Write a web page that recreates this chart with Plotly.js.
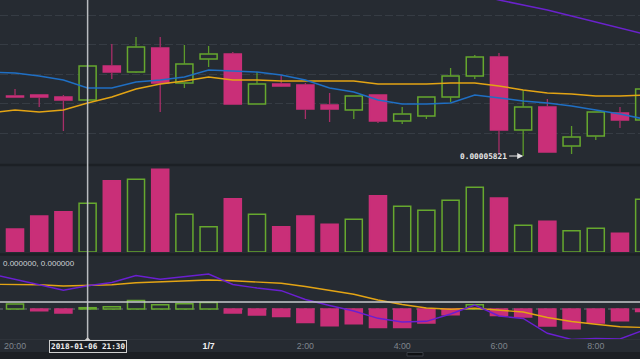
<!DOCTYPE html>
<html>
<head>
<meta charset="utf-8">
<script src="https://cdn.plot.ly/plotly-3.0.1.min.js"></script>
<style>html,body{margin:0;padding:0;background:#262b32;}#chart{width:640px;height:359px;}</style>
</head>
<body>
<div id="chart"></div>
<script>
// ---- data ----
const times = ['2018-01-06 20:00','2018-01-06 20:30','2018-01-06 21:00','2018-01-06 21:30','2018-01-06 22:00','2018-01-06 22:30','2018-01-06 23:00','2018-01-06 23:30',
  '2018-01-07 00:00','2018-01-07 00:30','2018-01-07 01:00','2018-01-07 01:30','2018-01-07 02:00','2018-01-07 02:30','2018-01-07 03:00','2018-01-07 03:30',
  '2018-01-07 04:00','2018-01-07 04:30','2018-01-07 05:00','2018-01-07 05:30','2018-01-07 06:00','2018-01-07 06:30','2018-01-07 07:00','2018-01-07 07:30',
  '2018-01-07 08:00','2018-01-07 08:30','2018-01-07 09:00'];
const open  = [0.00005881,0.00005882,0.00005880,0.00005877,0.00005911,0.00005905,0.00005929,0.00005894,0.00005918,0.00005923,0.00005873,0.00005893,0.00005892,0.00005872,
  0.00005867,0.00005882,0.00005856,0.00005861,0.00005880,0.00005901,0.00005920,0.00005847,0.00005870,0.00005831,0.00005841,0.00005864,0.00005857];
const close = [0.00005880,0.00005880,0.00005877,0.00005911,0.00005905,0.00005930,0.00005894,0.00005913,0.00005923,0.00005873,0.00005893,0.00005891,0.00005868,0.00005868,
  0.00005881,0.00005856,0.00005863,0.00005880,0.00005901,0.00005920,0.00005847,0.00005870,0.00005825,0.00005840,0.00005865,0.00005857,0.00005888];
const high  = [0.00005888,0.00005882,0.00005882,0.00005911,0.00005933,0.00005940,0.00005940,0.00005932,0.00005931,0.00005925,0.00005905,0.00005902,0.00005894,0.00005884,
  0.00005881,0.00005882,0.00005870,0.00005880,0.00005909,0.00005922,0.00005924,0.00005887,0.00005878,0.00005851,0.00005865,0.00005870,0.00005888];
const low   = [0.00005880,0.00005870,0.00005846,0.00005877,0.00005898,0.00005904,0.00005865,0.00005889,0.00005910,0.00005873,0.00005873,0.00005890,0.00005858,0.00005855,
  0.00005858,0.00005854,0.00005853,0.00005858,0.00005875,0.00005898,0.00005822,0.00005821,0.00005825,0.00005823,0.00005837,0.00005849,0.00005857];
const volume = [230,360,403,487,713,727,827,377,253,533,377,253,360,277,327,563,457,417,517,647,540,267,307,213,237,187,527];

const lineTimes = ['2018-01-06 19:30'].concat(times);
const maShort = [0.00005905,0.00005904,0.00005901,0.00005897,0.00005889,0.00005889,0.00005895,0.00005897,0.00005900,0.00005907,0.00005906,0.00005905,0.00005902,0.00005897,
  0.00005889,0.00005885,0.00005877,0.00005873,0.00005873,0.00005874,0.00005882,0.00005879,0.00005876,0.00005874,0.00005871,0.00005867,0.00005863,0.00005858];
const maMid = [0.00005864,0.00005867,0.00005865,0.00005867,0.00005874,0.00005880,0.00005888,0.00005893,0.00005896,0.00005900,0.00005897,0.00005897,0.00005896,0.00005896,
  0.00005896,0.00005896,0.00005893,0.00005893,0.00005893,0.00005894,0.00005894,0.00005891,0.00005887,0.00005884,0.00005883,0.00005881,0.00005881,0.00005882];
const maLong = [null,null,null,null,null,null,null,null,null,null,null,null,null,null,null,null,null,null,null,null,
  0.00005983,0.00005977,0.00005972,0.00005967,0.00005961,0.00005955,0.00005949,0.00005943];

const macdHist = [5.0e-9,-1.7e-9,-4.0e-9,1.3e-9,2.3e-9,8.6e-9,4.3e-9,5.3e-9,6.6e-9,-4.0e-9,-6.0e-9,-7.4e-9,-13.4e-9,-16.7e-9,
  -14.7e-9,-18.4e-9,-18.4e-9,-14.0e-9,-5.7e-9,4.3e-9,-6.4e-9,-8.0e-9,-17.0e-9,-19.7e-9,-14.0e-9,-11.7e-9,-2.4e-9];
const macdDif = [35e-9,30e-9,24.3e-9,18.7e-9,23.3e-9,26.5e-9,33.5e-9,29.7e-9,32.3e-9,35e-9,24.5e-9,21e-9,18.3e-9,9.5e-9,
  3.5e-9,-2e-9,-9.3e-9,-13e-9,-12.3e-9,-5e-9,4e-9,-7e-9,-9.5e-9,-24.3e-9,-30.5e-9,-29.5e-9,-30e-9,-21e-9];
const macdDea = [24.7e-9,24.5e-9,24.2e-9,23e-9,23.3e-9,24.3e-9,26.3e-9,27e-9,28e-9,29e-9,28.3e-9,27e-9,25.7e-9,22.5e-9,
  18.5e-9,14.7e-9,9e-9,4.5e-9,1e-9,-0.2e-9,0.7e-9,-1e-9,-3e-9,-8.5e-9,-12.5e-9,-15.3e-9,-17.7e-9,-18.5e-9];

const priceGrid = [0.00005844,0.000058735,0.00005903,0.000059325,0.00005962];
const xTickVals = ['2018-01-06 20:00','2018-01-07 00:00','2018-01-07 02:00','2018-01-07 04:00','2018-01-07 06:00','2018-01-07 08:00'];
const xTickText = ['20:00','<b><span style="color:#f2f2f2">1/7</span></b>','2:00','4:00','6:00','8:00'];
const cursorTime = '2018-01-06 21:30';
const cursorLabel = '2018-01-06 21:30';
const macdLabel = '0.000000, 0.000000';
const cursorMacd = 7e-9;

// ---- style ----
const BG = '#262b32', UP = '#66a82e', DOWN = '#c92f78', UPW = '#5c9a2a', DOWNW = '#a82e68';
const BARW = 1.27e6;
const H = 359;
const py = p => 1 - p / H;

const isUp = open.map((o, i) => close[i] >= o);
const bodyBase = open.map((o, i) => Math.min(o, close[i]));
const bodyH = open.map((o, i) => Math.max(Math.abs(close[i] - o), 0.6e-8));
const fillCol = isUp.map(u => u ? BG : DOWN);
const lineCol = isUp.map(u => u ? UP : DOWN);

function wicks(up) {
  const xs = [], ys = [];
  times.forEach((t, i) => {
    if (isUp[i] !== up) return;
    const top = Math.max(open[i], close[i]), bot = Math.min(open[i], close[i]);
    if (high[i] > top) { xs.push(t, t, null); ys.push(high[i], top, null); }
    if (low[i] < bot) { xs.push(t, t, null); ys.push(bot, low[i], null); }
  });
  return {x: xs, y: ys};
}
const wu = wicks(true), wd = wicks(false);

const traces = [
  {type:'scatter', mode:'lines', x: wu.x, y: wu.y, line:{color:UPW, width:1.3}, hoverinfo:'skip', connectgaps:false},
  {type:'scatter', mode:'lines', x: wd.x, y: wd.y, line:{color:DOWNW, width:1.3}, hoverinfo:'skip', connectgaps:false},
  {type:'bar', x: times, y: bodyH, base: bodyBase, width: BARW, marker:{color: fillCol, line:{color: lineCol, width:1.5}}},
  {type:'scatter', mode:'lines', x: lineTimes, y: maMid, line:{color:'#e3a414', width:1.5}},
  {type:'scatter', mode:'lines', x: lineTimes, y: maShort, line:{color:'#1f6fc4', width:1.5}},
  {type:'scatter', mode:'lines', x: lineTimes, y: maLong, line:{color:'#6a22cc', width:1.5}},
  {type:'bar', x: times, y: volume, yaxis:'y2', width: BARW, marker:{color: fillCol, line:{color: lineCol, width:1.5}}},
  {type:'bar', x: times, y: macdHist, yaxis:'y3', width: BARW,
    marker:{color: macdHist.map(v => v >= 0 ? BG : DOWN), line:{color: macdHist.map(v => v >= 0 ? UP : DOWN), width:1.5}}},
  {type:'scatter', mode:'lines', x: lineTimes, y: macdDea, yaxis:'y3', line:{color:'#e3a414', width:1.4}},
  {type:'scatter', mode:'lines', x: lineTimes, y: macdDif, yaxis:'y3', line:{color:'#6a1fd1', width:1.4}}
];

const layout = {
  width: 640, height: 359,
  margin: {l:0, r:0, t:0, b:0, pad:0},
  paper_bgcolor: BG, plot_bgcolor: BG,
  showlegend: false,
  bargap: 0,
  xaxis: {
    type:'date', anchor:'y3',
    range:['2018-01-06 19:41:23','2018-01-07 08:54:50'],
    tickvals: xTickVals, ticktext: xTickText,
    tickfont:{family:'Liberation Sans, Arial, sans-serif', size:8.8, color:'#7f858d'},
    showgrid:false, zeroline:false, showline:false, ticks:''
  },
  yaxis: {
    domain:[py(165), 1], range:[0.00005812, 0.00005977],
    showticklabels:false, zeroline:false,
    tickvals: priceGrid, gridcolor:'#363c44', gridwidth:1, griddash:'8px,3px'
  },
  yaxis2: {
    domain:[py(252), py(167)], range:[0, 850],
    showticklabels:false, showgrid:false, zeroline:false
  },
  yaxis3: {
    domain:[py(339), py(256)], range:[-30e-9, 53e-9],
    showticklabels:false, showgrid:false, zeroline:false
  },
  shapes: [
    {type:'line', xref:'paper', yref:'y3', x0:0, x1:1, y0:0, y1:0, line:{color:'#687079', width:1, dash:'3px,5px'}, layer:'below'},
    {type:'line', xref:'paper', yref:'paper', x0:0, x1:1, y0:py(165), y1:py(165), line:{color:'#1c2025', width:2.5}},
    {type:'line', xref:'paper', yref:'paper', x0:0, x1:1, y0:py(254.5), y1:py(254.5), line:{color:'#1c2025', width:2.5}},
    {type:'line', xref:'paper', yref:'paper', x0:0, x1:1, y0:py(339.5), y1:py(339.5), line:{color:'#2e333a', width:1}},
    {type:'rect', xref:'paper', yref:'paper', x0:0, x1:1, y0:0, y1:py(352), fillcolor:'#1c1f24', line:{width:0}},
    {type:'rect', xref:'paper', yref:'paper', x0:407/640, x1:423/640, y0:py(356), y1:py(352.5), fillcolor:'#0e1013', line:{color:'#3a3f46', width:1}},
    {type:'line', xref:'x', yref:'paper', x0:cursorTime, x1:cursorTime, y0:py(339), y1:1, line:{color:'#b9bcc0', width:1.5}},
    {type:'line', xref:'paper', yref:'y3', x0:0, x1:1, y0:cursorMacd, y1:cursorMacd, line:{color:'#c9cbce', width:1.5}},
    {type:'path', xref:'x', yref:'paper', xsizemode:'pixel', ysizemode:'pixel', xanchor:cursorTime, yanchor:py(341),
      path:'M-3.5,0 L0,3.5 L3.5,0 Z', fillcolor:'#cfcfcf', line:{color:'#cfcfcf', width:0.5}}
  ],
  annotations: [
    {xref:'x', yref:'paper', x:cursorTime, y:py(346), text:cursorLabel, showarrow:false, xanchor:'center', yanchor:'middle',
      font:{family:'DejaVu Sans Mono, monospace', size:7.7, color:'#f2f2f2', weight:'bold'},
      bgcolor:'#1a1d22', bordercolor:'#cfcfcf', borderwidth:1, borderpad:1},
    {xref:'x', yref:'y', x:'2018-01-07 06:30', y:Math.min.apply(null, low), text:Math.min.apply(null, low).toFixed(8),
      showarrow:true, ax:-14, ay:0, arrowhead:2, arrowsize:1, arrowwidth:1.2, arrowcolor:'#e6e6e6', xanchor:'right',
      font:{family:'DejaVu Sans Mono, monospace', size:7.8, color:'#e6e6e6', weight:'bold'}},
    {xref:'paper', yref:'paper', x:1/640, y:py(263), text:macdLabel, showarrow:false, xanchor:'left', yanchor:'middle',
      font:{family:'Liberation Sans, Arial, sans-serif', size:8, color:'#cfd2d6'}}
  ]
};

Plotly.newPlot('chart', traces, layout, {staticPlot:true, displayModeBar:false});
</script>
</body>
</html>
